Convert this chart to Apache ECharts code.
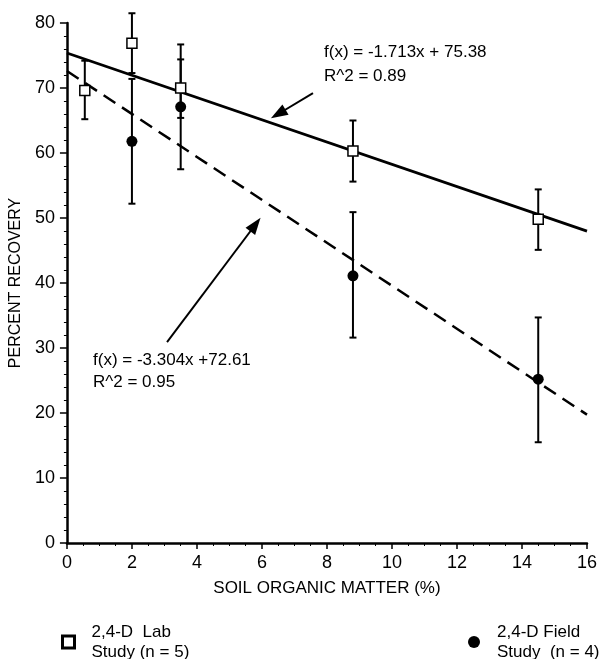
<!DOCTYPE html>
<html>
<head>
<meta charset="utf-8">
<script src="https://cdn.jsdelivr.net/npm/echarts@6/dist/echarts.min.js"></script>
<style>
  html, body { margin: 0; padding: 0; background: #fff; }
  #chart { width: 600px; height: 659px; }
</style>
</head>
<body>
<div id="chart"></div>
<script>
// lab study: [organic matter %, recovery %]
const labPoints = [[0.55, 69.6], [2, 76.9], [3.5, 70.0], [8.8, 60.3], [14.5, 49.8]];
// lab error bars: [x, low, high]
const labErrors = [[0.55, 65.2, 74.2], [2, 72.3, 81.5], [3.5, 65.4, 76.7], [8.8, 55.6, 65.0], [14.5, 45.1, 54.4]];

// field study
const fieldPoints = [[2, 61.8], [3.5, 67.1], [8.8, 41.1], [14.5, 25.2]];
const fieldErrors = [[2, 52.2, 71.4], [3.5, 57.5, 74.4], [8.8, 31.6, 50.9], [14.5, 15.5, 34.7]];

// fitted lines (end points)
const labFit = [[0, 75.38], [16, 47.97]];
const fieldFit = [[0, 72.61], [16, 19.75]];

const xTicks = [0, 2, 4, 6, 8, 10, 12, 14, 16];
const yTicks = [0, 10, 20, 30, 40, 50, 60, 70, 80];

const FONT = "'Liberation Sans', Arial, sans-serif";

const chart = echarts.init(document.getElementById("chart"));

// vertical error bar with caps
const errorBar = (params, api) => {
  const top = api.coord([api.value(0), api.value(2)]);
  const bottom = api.coord([api.value(0), api.value(1)]);
  const w = 3.5;
  const style = { stroke: "#000", lineWidth: 2 };
  return {
    type: "group",
    children: [
      { type: "line", shape: { x1: top[0], y1: top[1], x2: bottom[0], y2: bottom[1] }, style },
      { type: "line", shape: { x1: top[0] - w, y1: top[1], x2: top[0] + w, y2: top[1] }, style },
      { type: "line", shape: { x1: bottom[0] - w, y1: bottom[1], x2: bottom[0] + w, y2: bottom[1] }, style },
    ],
  };
};

const option = {
  animation: false,
  textStyle: { fontFamily: FONT, color: "#000" },
  grid: { left: 65, right: 11, top: 23, bottom: 116 },
  xAxis: {
    type: "value",
    min: xTicks[0],
    max: xTicks[xTicks.length - 1],
    interval: 2,
    name: "SOIL ORGANIC MATTER (%)",
    nameLocation: "middle",
    nameGap: 37,
    nameTextStyle: { fontSize: 17, color: "#000", fontFamily: FONT },
    axisLine: { lineStyle: { color: "#000", width: 2.5 } },
    axisTick: { length: 6, lineStyle: { color: "#000", width: 1.5 } },
    minorTick: { show: true, splitNumber: 4, length: 3, lineStyle: { color: "#000", width: 1 } },
    axisLabel: { fontSize: 18, color: "#000", margin: 11, fontFamily: FONT },
    splitLine: { show: false },
  },
  yAxis: {
    type: "value",
    min: yTicks[0],
    max: yTicks[yTicks.length - 1],
    interval: 10,
    name: "PERCENT RECOVERY",
    nameLocation: "middle",
    nameGap: 40,
    nameTextStyle: { fontSize: 16, color: "#000", fontFamily: FONT },
    axisLine: { show: true, lineStyle: { color: "#000", width: 2.5 } },
    axisTick: { show: true, length: 7, lineStyle: { color: "#000", width: 1.5 } },
    minorTick: { show: true, splitNumber: 5, length: 3, lineStyle: { color: "#000", width: 1 } },
    axisLabel: { fontSize: 18, color: "#000", margin: 12, fontFamily: FONT },
    splitLine: { show: false },
  },
  legend: [
    {
      data: ["lab"],
      left: 61,
      top: 622,
      padding: 0,
      itemWidth: 12,
      itemHeight: 12,
      icon: "rect",
      itemStyle: { color: "#fff", borderColor: "#000", borderWidth: 3 },
      textStyle: { fontSize: 17, lineHeight: 20, color: "#000", fontFamily: FONT, padding: [0, 0, 0, 12] },
      formatter: () => "2,4-D  Lab\nStudy (n = 5)",
    },
    {
      data: ["field"],
      left: 468,
      top: 622,
      padding: 0,
      itemWidth: 12,
      itemHeight: 12,
      icon: "circle",
      itemStyle: { color: "#000" },
      textStyle: { fontSize: 17, lineHeight: 20, color: "#000", fontFamily: FONT, padding: [0, 0, 0, 12] },
      formatter: () => "2,4-D Field\nStudy  (n = 4)",
    },
  ],
  series: [
    {
      name: "labFit",
      type: "line",
      data: labFit,
      symbol: "none",
      lineStyle: { color: "#000", width: 2.8 },
      z: 2,
      markLine: {
        silent: true,
        symbol: ["none", "triangle"],
        symbolSize: [12, 17],
        label: { show: false },
        lineStyle: { color: "#000", width: 2, type: "solid" },
        data: [
          [{ coord: [7.57, 69.2] }, { coord: [6.5, 66.0] }],
          [{ coord: [3.08, 30.9] }, { coord: [5.8, 49.0] }],
        ],
      },
    },
    {
      name: "fieldFit",
      type: "line",
      data: fieldFit,
      symbol: "none",
      lineStyle: { color: "#000", width: 2.5, type: [14, 8] },
      z: 2,
    },
    {
      name: "labErr",
      type: "custom",
      data: labErrors,
      renderItem: errorBar,
      z: 3,
    },
    {
      name: "fieldErr",
      type: "custom",
      data: fieldErrors,
      renderItem: errorBar,
      z: 3,
    },
    {
      name: "lab",
      type: "scatter",
      data: labPoints,
      symbol: "rect",
      symbolSize: 10,
      itemStyle: { color: "#fff", borderColor: "#000", borderWidth: 1.5, opacity: 1 },
      z: 5,
    },
    {
      name: "field",
      type: "scatter",
      data: fieldPoints,
      symbol: "circle",
      symbolSize: 11,
      itemStyle: { color: "#000", opacity: 1 },
      z: 5,
    },
  ],
  graphic: [
    { type: "text", left: 324, top: 44, style: { text: "f(x) = -1.713x + 75.38", font: "17px " + FONT, fill: "#000" } },
    { type: "text", left: 324, top: 68, style: { text: "R^2 = 0.89", font: "17px " + FONT, fill: "#000" } },
    { type: "text", left: 93, top: 352, style: { text: "f(x) = -3.304x +72.61", font: "17px " + FONT, fill: "#000" } },
    { type: "text", left: 93, top: 374, style: { text: "R^2 = 0.95", font: "17px " + FONT, fill: "#000" } },
  ],
};

chart.setOption(option);
</script>
</body>
</html>
